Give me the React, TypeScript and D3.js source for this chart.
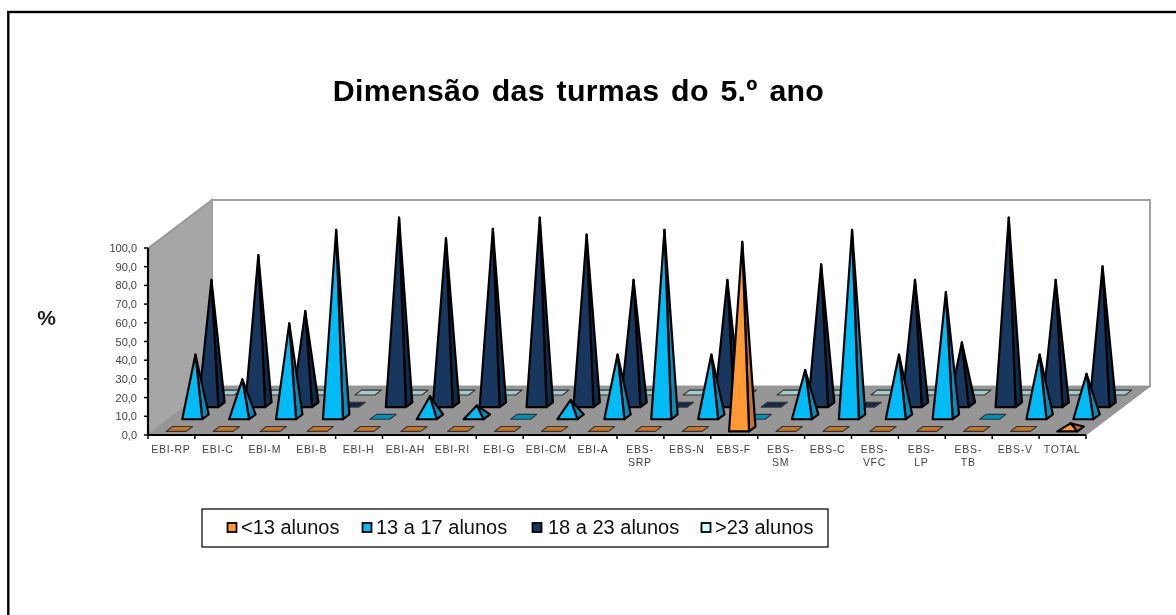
import React, { useEffect, useRef } from 'react';
import * as d3 from 'd3';

const categories = [
  ['EBI-RP'], ['EBI-C'], ['EBI-M'], ['EBI-B'], ['EBI-H'], ['EBI-AH'], ['EBI-RI'], ['EBI-G'], ['EBI-CM'], ['EBI-A'],
  ['EBS-', 'SRP'], ['EBS-N'], ['EBS-F'], ['EBS-', 'SM'], ['EBS-C'], ['EBS-', 'VFC'], ['EBS-', 'LP'], ['EBS-', 'TB'], ['EBS-V'], ['TOTAL'],
];
const seriesNames = ['<13 alunos', '13 a 17 alunos', '18 a 23 alunos', '>23 alunos'];
const under13 = [0, 0, 0, 0, 0, 0, 0, 0, 0, 0, 0, 0, 100, 0, 0, 0, 0, 0, 0, 3];
const from13to17 = [33.3, 20, 50, 100, 0, 11, 6, 0, 9, 33.3, 100, 33.3, 0, 25, 100, 33.3, 66.7, 0, 33.3, 23];
const from18to23 = [66.7, 80, 50, 0, 100, 89, 94, 100, 91, 66.7, 0, 66.7, 0, 75, 0, 66.7, 33.3, 100, 66.7, 74];
const over23 = [0, 0, 0, 0, 0, 0, 0, 0, 0, 0, 0, 0, 0, 0, 0, 0, 0, 0, 0, 0];
const seriesValues = [under13, from13to17, from18to23, over23];
const yTicks = [0, 10, 20, 30, 40, 50, 60, 70, 80, 90, 100];

const frontColors = ['#FF9933', '#00BBF5', '#17375E', '#CCFFFF'];
const sideColors = ['#C4752A', '#0090BC', '#102A48', '#A3CCCC'];

export default function App() {
  const svgRef = useRef<SVGSVGElement>(null);

  useEffect(() => {
    if (!svgRef.current) return;
    const svg = d3.select(svgRef.current);
    svg.selectAll('*').remove();

    const left = 148;
    const floorY = 435;
    const depthX = 64;
    const depthY = 48.5;
    const wallTop = 200;

    const x = d3.scaleBand<number>().domain(d3.range(categories.length)).range([left, 1086]);
    const y = d3.scaleLinear().domain([0, 100]).range([0, 187]);
    const depth = d3.scaleBand<number>().domain([0, 1, 2, 3]).range([0, 1]);

    // project (category position, depth 0..1, value) to screen
    const project = (px: number, d: number, v: number): [number, number] => [
      px + d * depthX,
      floorY - d * depthY - y(v),
    ];
    const poly = (pts: [number, number][]) => pts.map((p) => p.join(',')).join(' ');

    // outer frame, runs off the right and bottom of the picture
    svg.append('rect').attr('x', 8.3).attr('y', 12).attr('width', 1300).attr('height', 700)
      .attr('fill', '#fff').attr('stroke', '#000').attr('stroke-width', 2.4);

    svg.append('text').attr('x', 578.5).attr('y', 101).attr('text-anchor', 'middle')
      .attr('font-family', 'Liberation Sans').attr('font-weight', 'bold').attr('font-size', 30.3)
      .attr('letter-spacing', 0.3).attr('word-spacing', 3)
      .attr('fill', '#000').text('Dimensão das turmas do 5.º ano');
    svg.append('text').attr('x', 46.5).attr('y', 325).attr('text-anchor', 'middle')
      .attr('font-family', 'Liberation Sans').attr('font-weight', 'bold').attr('font-size', 21)
      .attr('fill', '#222').text('%');

    // walls and floor
    const wallH = floorY - depthY - wallTop;
    svg.append('polygon')
      .attr('points', poly([[left, floorY], [left + depthX, floorY - depthY], [left + depthX, wallTop], [left, wallTop + depthY]]))
      .attr('fill', '#A6A6A6').attr('stroke', '#999').attr('stroke-width', 2);
    svg.append('rect').attr('x', left + depthX).attr('y', wallTop).attr('width', 1086 - left).attr('height', wallH)
      .attr('fill', '#fff').attr('stroke', '#a0a0a0').attr('stroke-width', 2);
    svg.append('polygon')
      .attr('points', poly([[left, floorY], [1086, floorY], [1086 + depthX, floorY - depthY], [left + depthX, floorY - depthY]]))
      .attr('fill', '#969696').attr('stroke', '#969696').attr('stroke-width', 1);

    // pyramids, back row first
    const halfW = 10;
    const halfD = 0.05;
    [3, 2, 1, 0].forEach((s) => {
      const d = depth(s)! + depth.bandwidth() / 2;
      seriesValues[s].forEach((v, i) => {
        const cx = x(i)! + x.bandwidth() / 2;
        const fl = project(cx - halfW, d - halfD, 0);
        const fr = project(cx + halfW, d - halfD, 0);
        const br = project(cx + halfW, d + halfD, 0);
        const bl = project(cx - halfW, d + halfD, 0);
        const g = svg.append('g').attr('stroke', '#000').attr('stroke-linejoin', 'round');
        if (v === 0) {
          g.append('polygon').attr('points', poly([fl, fr, br, bl]))
            .attr('fill', sideColors[s]).attr('stroke', '#333').attr('stroke-width', 1.1);
          return;
        }
        const apex = project(cx, d, v);
        g.append('polygon').attr('points', poly([fr, br, apex])).attr('fill', sideColors[s]).attr('stroke-width', 2.2);
        g.append('polygon').attr('points', poly([fl, fr, apex])).attr('fill', frontColors[s]).attr('stroke-width', 2.2);
      });
    });

    // y axis
    const axisY = svg.append('g').attr('font-family', 'Liberation Sans').attr('font-size', 11).attr('fill', '#444');
    axisY.append('line').attr('x1', left).attr('x2', left).attr('y1', floorY + 1).attr('y2', floorY - y(100))
      .attr('stroke', '#000').attr('stroke-width', 2.2);
    yTicks.forEach((t) => {
      axisY.append('line').attr('x1', left - 4).attr('x2', left).attr('y1', floorY - y(t)).attr('y2', floorY - y(t))
        .attr('stroke', '#000').attr('stroke-width', 1.5);
      axisY.append('text').attr('x', 137).attr('y', floorY - y(t) + 4).attr('text-anchor', 'end')
        .text(d3.format('.1f')(t).replace('.', ','));
    });

    // x axis
    const axisX = svg.append('g').attr('font-family', 'Liberation Sans').attr('font-size', 10.5)
      .attr('letter-spacing', 0.7).attr('fill', '#444');
    axisX.append('line').attr('x1', left).attr('x2', 1086).attr('y1', floorY).attr('y2', floorY)
      .attr('stroke', '#000').attr('stroke-width', 2.2);
    d3.range(categories.length + 1).forEach((i) => {
      const tx = left + i * x.bandwidth();
      axisX.append('line').attr('x1', tx).attr('x2', tx).attr('y1', floorY).attr('y2', floorY + 4)
        .attr('stroke', '#000').attr('stroke-width', 1.5);
    });
    categories.forEach((lines, i) => {
      const cx = x(i)! + x.bandwidth() / 2;
      lines.forEach((line, k) => {
        axisX.append('text').attr('x', cx - 0.5).attr('y', 452.5 + k * 13).attr('text-anchor', 'middle').text(line);
      });
    });

    // legend
    svg.append('rect').attr('x', 202).attr('y', 509).attr('width', 626).attr('height', 38)
      .attr('fill', '#fff').attr('stroke', '#222').attr('stroke-width', 1.4);
    const legendX = [227, 362, 532, 701];
    const legendTextX = [241, 376, 548, 715];
    seriesNames.forEach((name, i) => {
      svg.append('rect').attr('x', legendX[i] + 0.5).attr('y', 523).attr('width', 9).attr('height', 9)
        .attr('fill', frontColors[i]).attr('stroke', '#000').attr('stroke-width', 1.8);
      svg.append('text').attr('x', legendTextX[i]).attr('y', 534)
        .attr('font-family', 'Liberation Sans').attr('font-size', 20).attr('fill', '#111').text(name);
    });
  }, []);

  return (
    <svg ref={svgRef} width={1176} height={615}
      style={{ position: 'absolute', left: 0, top: 0, display: 'block', filter: 'blur(0.4px)' }} />
  );
}
